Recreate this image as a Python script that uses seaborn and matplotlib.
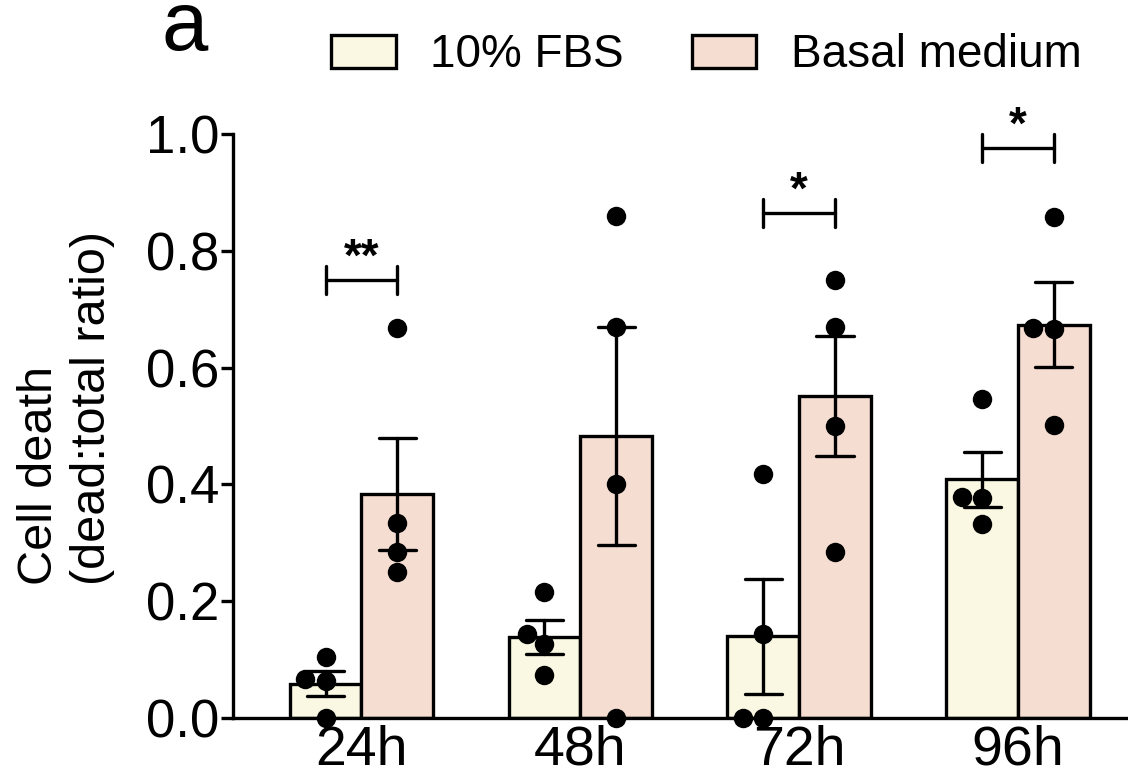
import numpy as np
import pandas as pd
import matplotlib
matplotlib.use("Agg")
import matplotlib.pyplot as plt
import seaborn as sns

# ------------------------------------------------------------
# Data (4 replicates per group)
# ------------------------------------------------------------
timepoints = ["24h", "48h", "72h", "96h"]
conditions = ["10% FBS", "Basal medium"]

fbs_values = {
    "24h": [0.104, 0.066, 0.064, 0.0],
    "48h": [0.215, 0.143, 0.126, 0.074],
    "72h": [0.417, 0.143, 0.0, 0.0],
    "96h": [0.546, 0.379, 0.377, 0.333],
}
basal_values = {
    "24h": [0.668, 0.334, 0.284, 0.250],
    "48h": [0.860, 0.669, 0.401, 0.0],
    "72h": [0.750, 0.669, 0.500, 0.285],
    "96h": [0.858, 0.668, 0.666, 0.502],
}

# significance brackets: timepoint, bracket height, label
sig_times = ["24h", "72h", "96h"]
sig_heights = [0.750, 0.865, 0.976]
sig_labels = ["**", "*", "*"]

colors = ["#FAF8E2", "#F5DDD2"]

bar_width = 0.655
half = bar_width / 4   # distance from group centre to each bar centre

rows = []
for i, t in enumerate(timepoints):
    for v in fbs_values[t]:
        rows.append((t, conditions[0], v, i - half))
    for v in basal_values[t]:
        rows.append((t, conditions[1], v, i + half))
df = pd.DataFrame(rows, columns=["time", "condition", "ratio", "xpos"])

# ------------------------------------------------------------
# Plot
# ------------------------------------------------------------
sns.set_style("ticks")
plt.rcParams["font.family"] = ["Liberation Sans", "DejaVu Sans"]
for k in ["text.color", "axes.labelcolor", "xtick.color", "ytick.color", "axes.edgecolor"]:
    plt.rcParams[k] = "black"
lw = 2.4

fig = plt.figure(figsize=(11.28, 7.80), dpi=100)
ax = fig.add_axes([0.2066, 0.0795, 0.7934, 0.7487])

sns.barplot(data=df, x="time", y="ratio", hue="condition", order=timepoints,
            hue_order=conditions, palette=colors, saturation=1, errorbar="se",
            width=bar_width, capsize=0.34,
            err_kws={"color": "black", "linewidth": lw},
            edgecolor="black", linewidth=lw, ax=ax)
# points sit on the bar centres, spread where they overlap
sns.swarmplot(data=df, x="xpos", y="ratio", native_scale=True, orient="x",
              color="black", size=14, ax=ax, clip_on=False, zorder=5)

ax.set_ylim(0, 1.0)
ax.set_xticks(range(len(timepoints)))
ax.set_xticklabels(timepoints)
ax.set_xlim(-0.587, 3.503)
ax.set_yticks([0.0, 0.2, 0.4, 0.6, 0.8, 1.0])
ax.set_yticklabels(["0.0", "0.2", "0.4", "0.6", "0.8", "1.0"])
ax.set_xlabel("")
ax.set_ylabel("Cell death\n(dead:total ratio)", fontsize=35, linespacing=1.23,
              multialignment="left")
ax.yaxis.set_label_coords(-0.132, 0.531)
ax.tick_params(axis="y", labelsize=38, width=lw, length=8.6, pad=1.5)
ax.tick_params(axis="x", labelsize=40, length=0, pad=5)
sns.despine(ax=ax, right=True, top=True)
for s in ["left", "bottom"]:
    ax.spines[s].set_linewidth(lw)

# significance brackets span the two bar centres of a timepoint
tick_h = 0.024
for t, h, lab in zip(sig_times, sig_heights, sig_labels):
    xc = timepoints.index(t)
    x0, x1 = xc - half, xc + half
    ax.plot([x0, x1], [h, h], color="black", lw=lw, clip_on=False)
    ax.plot([x0, x0], [h - tick_h, h + tick_h], color="black", lw=lw, clip_on=False)
    ax.plot([x1, x1], [h - tick_h, h + tick_h], color="black", lw=lw, clip_on=False)
    ax.text(xc, h + 0.036, lab, ha="center", va="center", fontsize=33,
            fontweight="bold", clip_on=False)

# legend across the top
handles, labels = ax.get_legend_handles_labels()
ax.legend(handles[:2], conditions, loc="center", bbox_to_anchor=(0.529, 1.135),
          ncol=2, frameon=False, fontsize=33, handlelength=1.4, handleheight=0.74,
          handletextpad=0.75, columnspacing=1.5, borderaxespad=0)

fig.text(0.1436, 0.936, "a", fontsize=60, ha="left", va="baseline")

fig.savefig("out.png", dpi=100)
